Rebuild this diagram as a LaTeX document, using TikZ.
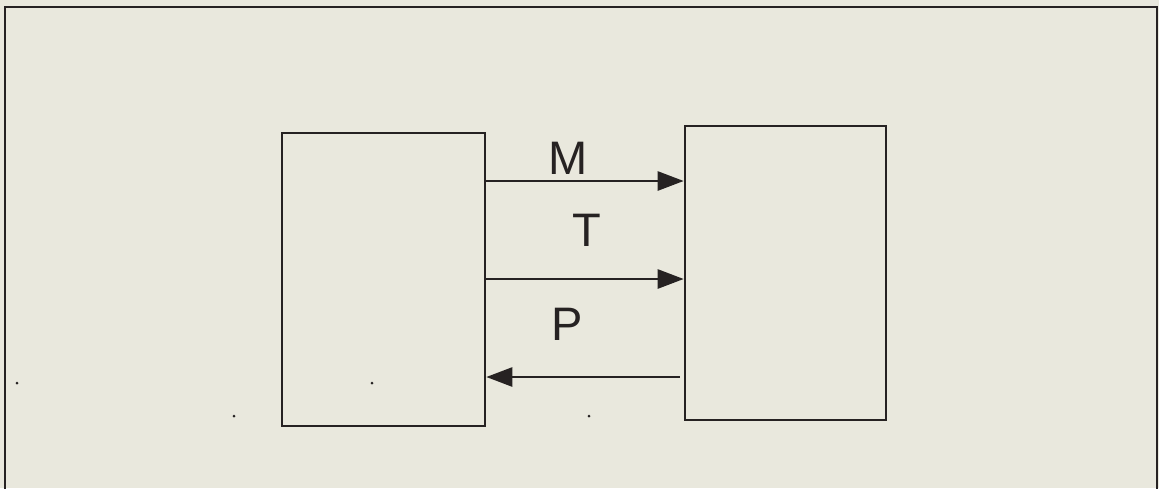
\documentclass[tikz,border=0pt]{standalone}
\usepackage{fontspec}
\setmainfont{Liberation Sans}
\usetikzlibrary{arrows.meta}
\definecolor{paper}{HTML}{E9E8DD}
\definecolor{ink}{HTML}{262222}
\begin{document}
\begin{tikzpicture}[x=1pt,y=-1pt,
  blk/.style={draw=ink,line width=2.6pt,rectangle,inner sep=0pt,minimum width=#1},
  sig/.style={draw=ink,line width=2.6pt,-{Triangle[length=26pt,width=19pt]}},
  lbl/.style={text=ink,font=\fontsize{47}{47}\selectfont,inner sep=0pt,anchor=base},
  speck/.style={fill=ink,circle,inner sep=0pt,minimum size=3pt}]
\useasboundingbox (0,0) rectangle (1159,488);
\fill[paper] (0,0) rectangle (1159,488);
\draw[ink,line width=2.4pt] (5,495) -- (5,7) -- (1157,7) -- (1157,495);
\node[blk=203pt,minimum height=293pt] (A) at (383.5,279.5) {};
\node[blk=201pt,minimum height=294pt] (B) at (785.5,273) {};
\coordinate (a1) at (A.east |- 0,181);
\coordinate (b1) at (B.west |- 0,181);
\coordinate (a2) at (A.east |- 0,279);
\coordinate (b2) at (B.west |- 0,279);
\coordinate (a3) at (A.east |- 0,377);
\coordinate (b3) at ([xshift=-4pt]B.west |- 0,377);
\draw[sig] (a1) -- (b1);
\draw[sig] (a2) -- (b2);
\draw[sig] (b3) -- (a3);
\node[lbl] (M) at (568,174) {M};
\node[lbl] (T) at (587,246) {T};
\node[lbl] (P) at (567,340) {P};
\node[speck] (d1) at (17,383) {};
\node[speck] (d2) at (234,416) {};
\node[speck] (d3) at (372,383) {};
\node[speck] (d4) at (589,416) {};
\end{tikzpicture}
\end{document}
